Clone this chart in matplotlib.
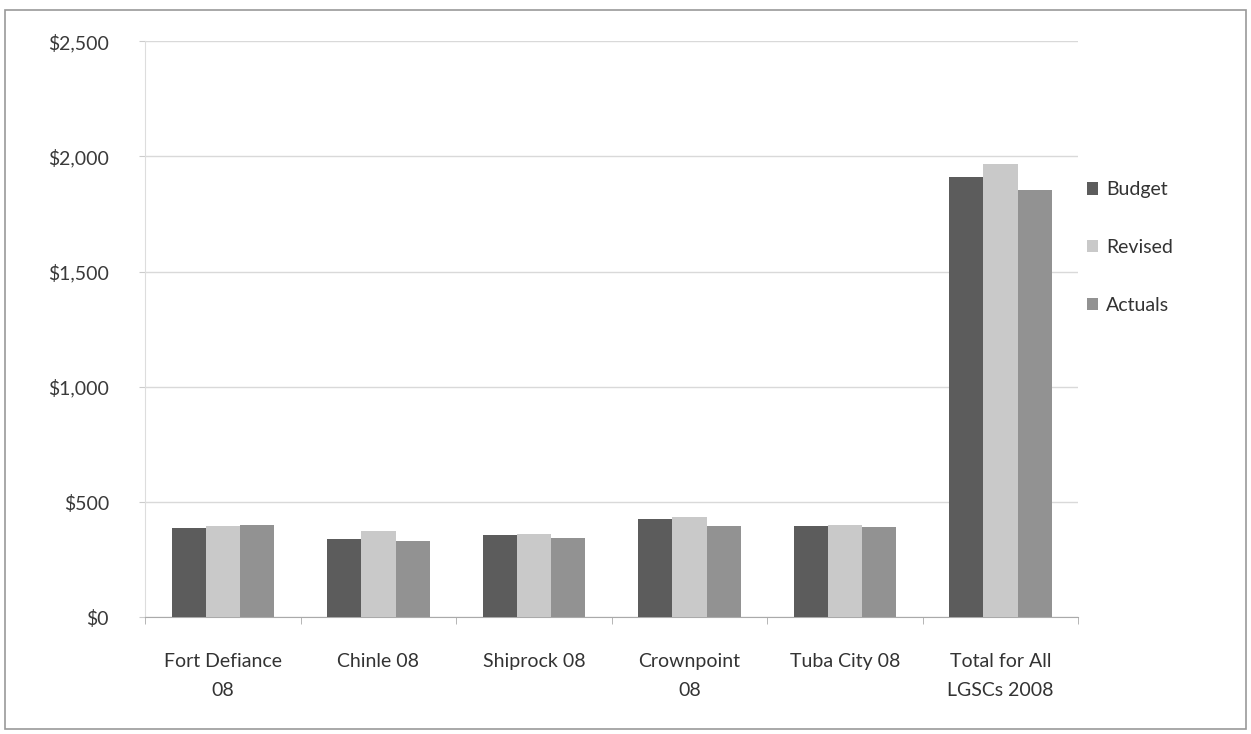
"""Budget vs revised vs actuals by LGSC, 2008 - grouped bar chart."""

import matplotlib.pyplot as plt
import numpy as np
from matplotlib.patches import Rectangle
from matplotlib.ticker import FuncFormatter, MultipleLocator

categories = ["Fort Defiance\n08", "Chinle 08", "Shiprock 08", "Crownpoint\n08",
              "Tuba City 08", "Total for All\nLGSCs 2008"]
budget = [388, 341, 355, 428, 395, 1910]
revised = [396, 375, 362, 434, 401, 1965]
actuals = [402, 331, 346, 395, 392, 1855]

series = [("Budget", budget, "#5c5c5c"),
          ("Revised", revised, "#c9c9c9"),
          ("Actuals", actuals, "#929292")]


def main() -> None:
    plt.rcParams["font.family"] = ["Lato", "DejaVu Sans"]
    fig = plt.figure(figsize=(12.51, 7.34), dpi=100)
    ax = fig.add_axes([0.116, 0.159, 0.746, 0.785])

    x = np.arange(len(categories))
    width = 0.22
    for i, (name, vals, color) in enumerate(series):
        ax.bar(x + (i - 1) * width, vals, width, color=color, label=name, zorder=3)

    ax.set_xlim(-0.5, len(categories) - 0.5)
    ax.set_ylim(0, 2500)
    ax.yaxis.set_major_locator(MultipleLocator(500))
    ax.yaxis.set_major_formatter(FuncFormatter(lambda v, _: f"${v:,.0f}"))
    ax.grid(axis="y", color="#d9d9d9", linewidth=1, zorder=0)

    ax.set_xticks(x)
    ax.set_xticklabels(categories, fontsize=14, color="#333333", linespacing=1.8)
    ax.set_xticks(np.arange(len(categories) + 1) - 0.5, minor=True)
    ax.tick_params(axis="x", which="major", length=0, pad=26)
    ax.tick_params(axis="x", which="minor", length=5, color="#aaaaaa")
    ax.tick_params(axis="y", labelsize=14, labelcolor="#3a3a3a", length=4,
                   color="#cccccc", pad=22)

    for side in ("top", "right"):
        ax.spines[side].set_visible(False)
    ax.spines["left"].set_color("#dddddd")
    ax.spines["bottom"].set_color("#aaaaaa")

    ax.legend(loc="upper left", bbox_to_anchor=(0.99, 0.787), frameon=False,
              fontsize=14, handlelength=0.6, handleheight=0.6, labelspacing=2.1,
              handletextpad=0.4, labelcolor="#333333")

    # thin frame round the whole chart
    fig.patches.append(Rectangle((0.004, 0.007), 0.992, 0.98, transform=fig.transFigure,
                                 fill=False, edgecolor="#999999", linewidth=1.2))

    fig.savefig("out.png", dpi=100)
    plt.close(fig)


if __name__ == "__main__":
    main()
